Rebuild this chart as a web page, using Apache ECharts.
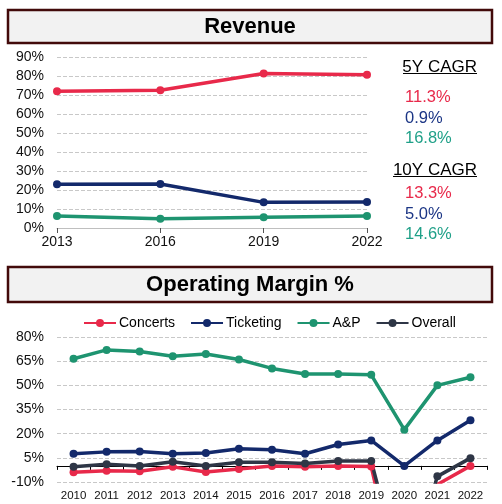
<!DOCTYPE html>
<html>
<head>
<meta charset="utf-8">
<script src="https://cdn.jsdelivr.net/npm/echarts@6/dist/echarts.min.js"></script>
<style>
  html, body { margin: 0; padding: 0; background: #fff; }
  #chart { width: 502px; height: 504px; }
</style>
</head>
<body>
<div id="chart"></div>
<script>
// revenue mix (top panel)
var revYears = ['2013', '2016', '2019', '2022'];
var revConcerts = [72, 72.5, 81.3, 80.7];
var revTicketing = [23, 23.2, 13.5, 13.7];
var revAP = [6.3, 4.9, 5.6, 6.3];

// CAGR text block
var cagr5 = ['11.3%', '0.9%', '16.8%'];
var cagr10 = ['13.3%', '5.0%', '14.6%'];

// operating margin (bottom panel)
var omYears = ['2010', '2011', '2012', '2013', '2014', '2015', '2016', '2017', '2018', '2019', '2020', '2021', '2022'];
var omConcerts = [-4, -3, -3.3, -0.6, -3.8, -2, 0, -0.6, 0, -0.4, -90, -11.5, 0];
var omTicketing = [7.5, 8.7, 9, 7.5, 8, 10.6, 10, 7.5, 13.3, 15.8, 0, 15.8, 28.3];
var omAP = [66.5, 72, 71, 68, 69.5, 66, 60.5, 57, 57, 56.5, 22.5, 50, 55];
var omOverall = [-0.6, 1, 0, 2.5, 0, 2.3, 2.3, 1.5, 3, 3, -75, -6.5, 4.8];

var RED = '#E8294A', NAVY = '#13296B', GREEN = '#1E9470', DARK = '#2E3646';
var FONT = '"Liberation Sans", Arial, sans-serif';

var chart = echarts.init(document.getElementById('chart'));

function lineSeries(name, data, color, x, y) {
    return {
        name: name, type: 'line', data: data,
        xAxisIndex: x, yAxisIndex: y,
        symbol: 'circle', symbolSize: 8,
        lineStyle: { color: color, width: 3.5 },
        itemStyle: { color: color },
        clip: true, animation: false
    };
}

function titleBox(y, h, text) {
    return [
        { type: 'rect', shape: { x: 8, y: y, width: 484, height: h },
          style: { fill: '#f2f2f2', stroke: '#420A0A', lineWidth: 2.5 } },
        { type: 'text', x: 250, y: y + h / 2,
          style: { text: text, font: 'bold 22px ' + FONT, fill: '#000',
                   textAlign: 'center', textVerticalAlign: 'middle' } }
    ];
}

function cagrBlock(title, vals, yTitle, yUnder, yVals) {
    var cols = [RED, '#1B3585', '#1FA088'];
    var out = [
        { type: 'text', x: 477, y: yTitle,
          style: { text: title, font: '17px ' + FONT, fill: '#000',
                   textAlign: 'right', textVerticalAlign: 'middle' } },
        { type: 'line', shape: { x1: title.length > 7 ? 393 : 403, y1: yUnder, x2: 477, y2: yUnder },
          style: { stroke: '#000', lineWidth: 1 } }
    ];
    for (var i = 0; i < vals.length; i++) {
        out.push({ type: 'text', x: 405, y: yVals[i],
          style: { text: vals[i], font: '16.5px ' + FONT, fill: cols[i],
                   textAlign: 'left', textVerticalAlign: 'middle' } });
    }
    return out;
}

var graphics = []
    .concat(titleBox(10, 33, 'Revenue'))
    .concat(titleBox(267, 35, 'Operating Margin %'))
    .concat(cagrBlock('5Y CAGR', cagr5, 67, 73.5, [97, 118, 138]))
    .concat(cagrBlock('10Y CAGR', cagr10, 170, 176.5, [193, 214, 234]));

var gridLine = { show: true, lineStyle: { color: '#c8c8c8', type: 'dashed', width: 1 } };
var axisTxt = { color: '#111', fontFamily: FONT, fontSize: 14 };

var option = {
    backgroundColor: '#fff',
    animation: false,
    textStyle: { fontFamily: FONT },
    graphic: graphics,
    legend: {
        data: ['Concerts', 'Ticketing', 'A&P', 'Overall'],
        left: 78, top: 311,
        itemWidth: 32, itemHeight: 10, itemGap: 15,
        textStyle: { fontFamily: FONT, fontSize: 14, color: '#000', padding: [0, 0, 0, -2] }
    },
    grid: [
        { left: 57, right: 135, top: 57, bottom: 276 },
        { left: 57, right: 15, top: 337, bottom: 22 }
    ],
    xAxis: [
        { type: 'category', gridIndex: 0, data: revYears, boundaryGap: false,
          axisLine: { show: true, lineStyle: { color: '#bfbfbf' } },
          axisTick: { show: true, length: 5, lineStyle: { color: '#555' } },
          axisLabel: Object.assign({ margin: 7 }, axisTxt),
          splitLine: { show: false } },
        { type: 'category', gridIndex: 1, data: omYears, boundaryGap: true,
          axisLine: { show: true, onZero: true, lineStyle: { color: '#000', width: 1 } },
          axisTick: { show: true, length: 4, interval: 0, lineStyle: { color: '#000' } },
          axisLabel: { show: false }, splitLine: { show: false } },
        { type: 'category', gridIndex: 1, data: omYears, boundaryGap: true, position: 'bottom',
          axisLine: { show: false, onZero: false }, axisTick: { show: false },
          axisLabel: { margin: 8, interval: 0, hideOverlap: false, color: '#111', fontFamily: FONT, fontSize: 11.5 },
          splitLine: { show: false } }
    ],
    yAxis: [
        { type: 'value', gridIndex: 0, min: 0, max: 90, interval: 10,
          axisLine: { show: false }, axisTick: { show: false },
          axisLabel: Object.assign({ margin: 13, formatter: '{value}%' }, axisTxt),
          splitLine: gridLine },
        { type: 'value', gridIndex: 1, min: -10, max: 80, interval: 15,
          axisLine: { show: false }, axisTick: { show: false },
          axisLabel: Object.assign({ margin: 13, formatter: '{value}%' }, axisTxt),
          splitLine: gridLine }
    ],
    series: [
        lineSeries('Concerts Rev', revConcerts, RED, 0, 0),
        lineSeries('Ticketing Rev', revTicketing, NAVY, 0, 0),
        lineSeries('A&P Rev', revAP, GREEN, 0, 0),
        lineSeries('Concerts', omConcerts, RED, 1, 1),
        lineSeries('Ticketing', omTicketing, NAVY, 1, 1),
        lineSeries('A&P', omAP, GREEN, 1, 1),
        lineSeries('Overall', omOverall, DARK, 1, 1)
    ]
};

chart.setOption(option);
</script>
</body>
</html>
